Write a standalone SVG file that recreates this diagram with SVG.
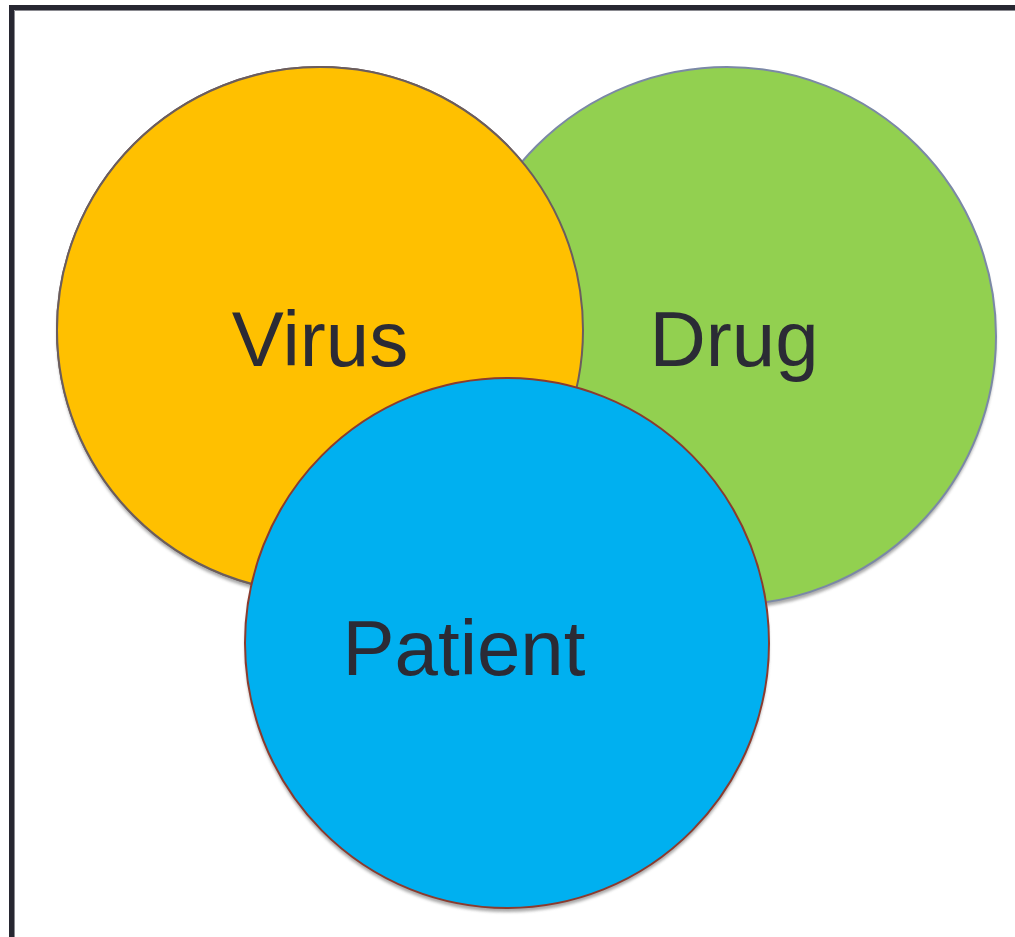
<svg xmlns="http://www.w3.org/2000/svg" width="1015" height="937" viewBox="0 0 1015 937">
  <style>
    .label { font-family: "Liberation Sans", Arial, sans-serif; font-size: 78px; fill: #2b2b35; text-anchor: middle; }
    .shadow { fill: #8c8c8c; opacity: 0.75; filter: url(#soft); }
  </style>
  <defs>
    <filter id="soft" x="-5%" y="-5%" width="110%" height="110%">
      <feGaussianBlur stdDeviation="1.5"/>
    </filter>
  </defs>
  <rect width="1015" height="937" fill="#ffffff"/>

  <!-- frame -->
  <g id="frame">
    <path d="M11.5,940 V7.5 H1020" fill="none" stroke="#272731" stroke-width="5"/>
    <path d="M14.5,940 V10.5 H1020" fill="none" stroke="#8a8a90" stroke-width="1"/>
  </g>

  <!-- Virus -->
  <g id="virus">
    <ellipse class="shadow" cx="320" cy="334" rx="263" ry="263"/>
    <ellipse cx="320" cy="330" rx="263" ry="263" fill="#ffc000" stroke="#6b5d5d" stroke-width="2"/>
  </g>

  <!-- Drug (drawn behind Virus on the overlap) -->
  <g id="drug">
    <ellipse class="shadow" cx="727" cy="340" rx="269" ry="269"/>
    <ellipse cx="727" cy="336" rx="269" ry="269" fill="#92d050" stroke="#7b88a6" stroke-width="2"/>
  </g>

  <!-- Virus redrawn on top of Drug -->
  <g id="virus-front">
    <ellipse cx="320" cy="330" rx="263" ry="263" fill="#ffc000" stroke="#6b5d5d" stroke-width="2"/>
    <text class="label" x="320" y="366">Virus</text>
  </g>

  <g id="drug-label">
    <text class="label" x="734" y="366">Drug</text>
  </g>

  <!-- Patient -->
  <g id="patient">
    <ellipse class="shadow" cx="507" cy="647" rx="262" ry="265"/>
    <ellipse cx="507" cy="643" rx="262" ry="265" fill="#00b0f0" stroke="#8b3b2e" stroke-width="2"/>
    <text class="label" x="464" y="675">Patient</text>
  </g>
</svg>
